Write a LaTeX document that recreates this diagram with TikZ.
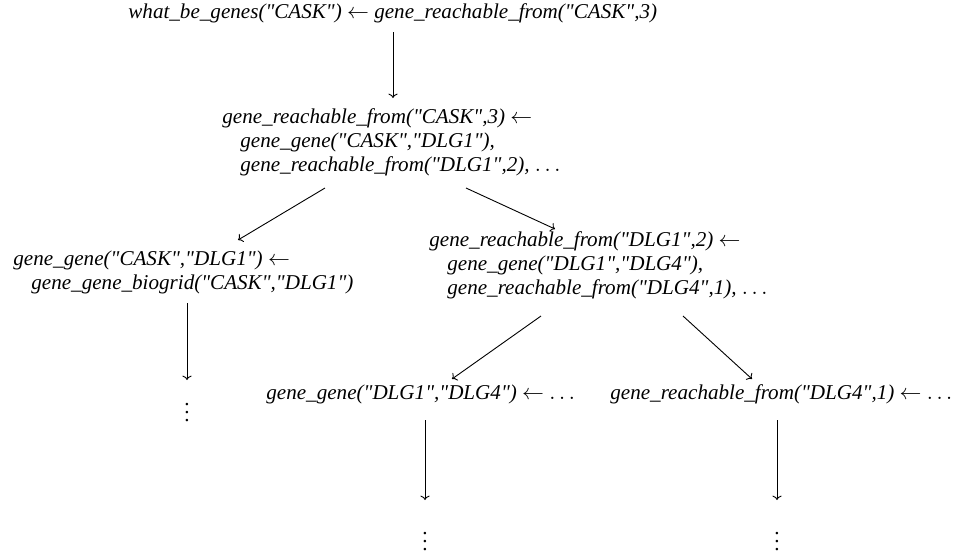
\documentclass[tikz,border=0pt]{standalone}
\usepackage{fontspec}
\setmainfont{Liberation Serif}[Ligatures=TeXOff]
\usetikzlibrary{arrows.meta}
\newcommand\LArr{\ensuremath{\leftarrow}}
\newcommand\Dts{\ensuremath{\ldots}}
\newcommand\Ind{\hspace*{9pt}}
\begin{document}
\begin{tikzpicture}[x=0.5pt,y=-0.5pt,
  lbl/.style={inner sep=0pt,anchor=base west,align=left,font=\fontsize{10.55}{12.2}\selectfont\itshape},
  vd/.style={inner sep=0pt,font=\fontsize{10.55}{12.2}\selectfont},
  conn/.style={line width=0.45pt,-{To[length=2.2pt,width=4.6pt]}}]
\useasboundingbox (0,0) rectangle (953,553);
% base anchor of a multi-line node = baseline of its last line (line pitch 24.4)
\node[lbl] (t1) at (128,18) {what\_be\_genes("CASK") \LArr{} gene\_reachable\_from("CASK",3)};
\node[lbl] (t2) at (222,171.8) {gene\_reachable\_from("CASK",3) \LArr\\
\Ind gene\_gene("CASK","DLG1"),\\
\Ind gene\_reachable\_from("DLG1",2), \Dts};
\node[lbl] (t3) at (13,289.4) {gene\_gene("CASK","DLG1") \LArr\\
\Ind gene\_gene\_biogrid("CASK","DLG1")};
\node[lbl] (t4) at (429,294.8) {gene\_reachable\_from("DLG1",2) \LArr\\
\Ind gene\_gene("DLG1","DLG4"),\\
\Ind gene\_reachable\_from("DLG4",1), \Dts};
\node[lbl] (t5) at (266,399) {gene\_gene("DLG1","DLG4") \LArr{} \Dts};
\node[lbl] (t6) at (610,399) {gene\_reachable\_from("DLG4",1) \LArr{} \Dts};
\node[vd] (v1) at (187,407) {$\vdots$};
\node[vd] (v2) at (425,536) {$\vdots$};
\node[vd] (v3) at (777,536) {$\vdots$};
% connector ends
\coordinate (a1s) at (393,32);  \coordinate (a1e) at (393,98);
\coordinate (a2s) at (325,188); \coordinate (a2e) at (238,240);
\coordinate (a3s) at (466,188); \coordinate (a3e) at (555,229);
\coordinate (a4s) at (187,303); \coordinate (a4e) at (187,380);
\coordinate (a5s) at (541,316); \coordinate (a5e) at (452,379);
\coordinate (a6s) at (683,316); \coordinate (a6e) at (752,379);
\coordinate (a7s) at (425,420); \coordinate (a7e) at (425,500);
\coordinate (a8s) at (777,420); \coordinate (a8e) at (777,500);
\foreach \i in {1,...,8} \draw[conn] (a\i s) -- (a\i e);
\end{tikzpicture}
\end{document}
